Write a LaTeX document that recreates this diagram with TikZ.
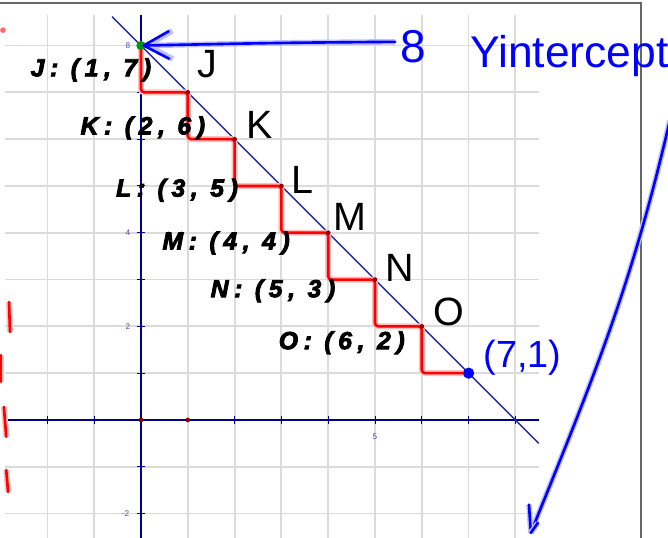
\documentclass[tikz,border=0pt]{standalone}
\usepackage{fontspec}
\setmainfont{Liberation Sans}
\newfontfamily\coordfont[BoldItalicFeatures={FakeBold=3.5, LetterSpace=23}]{Liberation Sans}
\usetikzlibrary{arrows.meta, positioning, calc}
\tikzset{
    gridline/.style={gray!28, line width=1.1pt},
    axisline/.style={blue!55!black, line width=1.3pt},
    tickmark/.style={blue!55!black, line width=0.6pt},
    ticklabel/.style={text=blue!55!black!70, font=\fontsize{5}{5}\selectfont, inner sep=0pt},
    ptlabel/.style={font=\coordfont\bfseries\itshape\fontsize{15}{15}\selectfont, inner sep=0pt},
    ptletter/.style={font=\fontsize{24}{24}\selectfont, inner sep=0pt},
    redpen/.style={red, line width=1.6pt, line cap=round, line join=round,
        preaction={draw=red!25, line width=3.6pt}},
    bluepen/.style={blue, line width=1.6pt, line cap=round, line join=round,
        preaction={draw=blue!25, line width=3.4pt}},
    handtext/.style={text=blue, inner sep=0pt}
}
\begin{document}
\begin{tikzpicture}[x=1cm, y=1cm]
    \useasboundingbox (-3.013,-2.521) rectangle (11.261,8.974);

    % grid and frame
    \foreach \i in {-2,...,8} \draw[gridline] (\i,-2.52) -- (\i,8.65);
    \foreach \j in {-2,...,8} \draw[gridline] (-2.9,\j) -- (8.5,\j);
    \draw[gray!80!black, line width=1.5pt] (-3.02,8.91) -- (10.68,8.91) -- (10.68,-2.53);

    % axes
    \draw[axisline] (-2.9,0) -- (8.5,0);
    \draw[axisline] (0,-2.52) -- (0,8.65);
    \foreach \i in {-2,-1,2,3,...,8} \draw[tickmark] (\i,-0.09) -- (\i,0.09);
    \foreach \j in {-2,-1,1,2,...,7} \draw[tickmark] (-0.09,\j) -- (0.09,\j);
    \node[ticklabel] (t8) at (-0.28,8) {8};
    \node[ticklabel] (t4) at (-0.28,4) {4};
    \node[ticklabel] (t2) at (-0.28,2) {2};
    \node[ticklabel] (tm2) at (-0.33,-2) {-2};
    \node[ticklabel] (t5) at (5,-0.36) {5};

    % the line x+y=8
    \draw[blue!60!black!85, line width=0.8pt] (-0.62,8.62) -- (8.5,-0.5);

    \coordinate (Y) at (0,8);
    \coordinate (J) at (1,7);
    \coordinate (K) at (2,6);
    \coordinate (L) at (3,5);
    \coordinate (M) at (4,4);
    \coordinate (N) at (5,3);
    \coordinate (O) at (6,2);
    \coordinate (P) at (7,1);

    % red staircase
    \draw[redpen, rounded corners=2pt] (Y) |- (J) |- (K) |- (L) |- (M) |- (N) |- (O) |- (P);

    \foreach \p in {J,K,L,M,N,O} \fill[red!55!black] (\p) circle (0.05);
    \fill[red!55!black] (0,0) circle (0.05);
    \fill[red!55!black] (1,0) circle (0.05);
    \fill[green!60!black] (Y) circle (0.1);
    \fill[blue] (P) circle (0.12);

    % letters
    \node[ptletter] (lJ) at (1.41,7.61) {J};
    \node[ptletter] (lK) at (2.54,6.30) {K};
    \node[ptletter] (lL) at (3.46,5.13) {L};
    \node[ptletter] (lM) at (4.47,4.34) {M};
    \node[ptletter] (lN) at (5.53,3.25) {N};
    \node[ptletter] (lO) at (6.58,2.31) {O};

    % coordinates
    \node[ptlabel] (cJ) at (-1.07,7.48) {J: (1, 7)};
    \node[ptlabel] (cK) at (0.04,6.24) {K: (2, 6)};
    \node[ptlabel] (cL) at (0.77,4.91) {L: (3, 5)};
    \node[ptlabel] (cM) at (1.82,3.78) {M: (4, 4)};
    \node[ptlabel] (cN) at (2.82,2.76) {N: (5, 3)};
    \node[ptlabel] (cO) at (4.29,1.65) {O: (6, 2)};

    % handwriting
    \coordinate (arrowstart) at (5.43,8.08);
    \draw[bluepen, -{Straight Barb[length=0.55cm, width=0.6cm]}] (arrowstart) .. controls (3,8.06) .. (Y);
    \node[handtext, font=\fontsize{28}{28}\selectfont] (eight) at (5.81,7.97) {8};
    \node[handtext, anchor=base west, font=\fontsize{27}{27}\selectfont] (yint) at (7.03,7.54) {Yintercept};
    \node[handtext, font=\fontsize{23}{23}\selectfont] (pt71) at (8.15,1.33) {(7,1)};

    \coordinate (swooptop) at (11.3,6.4);
    \coordinate (swoopend) at (8.33,-2.41);
    \draw[bluepen] (swooptop) to[out=-103, in=68] (swoopend);
    \draw[bluepen] (swoopend) -- ++(-0.04,0.6);
    \draw[bluepen] (swoopend) -- ++(0.15,0.21);

    % red marks on the left
    \draw[redpen] (-2.82,2.52) -- (-2.80,1.88);
    \draw[redpen] (-2.99,1.39) -- (-2.99,0.81);
    \draw[redpen] (-2.93,0.28) -- (-2.88,-0.36);
    \draw[redpen] (-2.88,-1.07) -- (-2.84,-1.54);
    \fill[red!60] (-2.95,8.33) circle (0.06);
\end{tikzpicture}
\end{document}
